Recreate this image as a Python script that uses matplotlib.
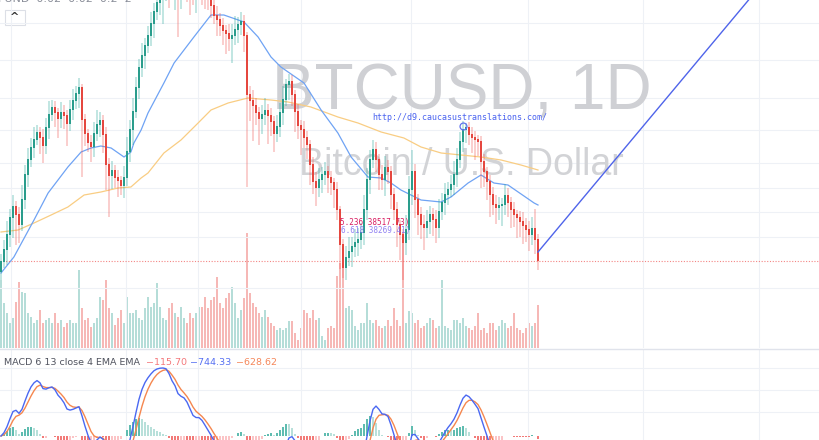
import numpy as np
import matplotlib.pyplot as plt

# --- daily candles (price in thousands USD), open of bar n = close of bar n-1
open_first = 12.8
close = [13.8, 15.0, 16.5, 18.2, 19.3, 18.5, 17.5, 20.0, 22.5, 24.0,
         25.2, 26.0, 26.7, 26.2, 25.4, 27.2, 28.5, 29.2, 28.7, 28.1,
         28.7, 28.4, 27.6, 29.0, 29.9, 30.6, 31.2, 28.0, 26.6, 25.7,
         25.3, 26.6, 27.5, 27.9, 26.5, 23.5, 22.4, 22.9, 22.2, 21.9,
         21.4, 22.2, 24.8, 27.0, 28.8, 31.2, 33.2, 34.4, 35.4, 36.4,
         37.6, 38.8, 39.7, 40.6, 41.5, 42.2, 41.6, 41.0, 41.6, 40.6,
         42.0, 42.6, 42.0, 41.0, 40.5, 41.5, 42.2, 41.5, 40.6, 40.0,
         39.4, 38.4, 38.0, 37.4, 36.9, 36.6, 36.1, 36.4, 37.0, 37.5,
         37.8, 36.4, 30.5, 29.9, 29.4, 28.7, 28.1, 28.5, 28.9, 28.4,
         27.8, 26.6, 27.3, 28.7, 30.0, 31.5, 31.8, 30.5, 28.8, 27.4,
         27.0, 26.2, 25.5, 23.5, 21.8, 21.2, 22.0, 22.5, 22.8, 22.2,
         21.7, 21.0, 19.0, 15.5, 13.2, 14.2, 14.8, 15.3, 15.7, 16.0,
         16.7, 19.0, 22.0, 24.0, 25.0, 24.0, 22.5, 22.0, 23.2, 22.8,
         20.5, 19.0, 17.5, 16.5, 15.7, 17.0, 21.0, 22.8, 20.0, 18.5,
         17.5, 17.2, 17.8, 18.5, 18.0, 17.2, 18.8, 19.7, 20.5, 21.0,
         21.5, 22.5, 24.0, 25.8, 27.0, 27.2, 26.5, 26.2, 26.0, 25.8,
         23.8, 22.8, 21.8, 20.5, 19.5, 19.2, 19.4, 19.5, 20.4, 19.7,
         19.0, 18.5, 18.2, 17.8, 17.4, 17.0, 16.5, 17.1, 16.0, 13.9]
upper_wick = [0.8, 1.0, 1.4, 0.9, 1.2, 0.6, 0.8, 1.5, 1.0, 1.2,
              1.0, 1.3, 0.8, 0.6, 0.9, 1.0, 1.4, 0.8, 0.7, 0.5,
              1.1, 0.8, 0.6, 1.0, 1.2, 0.8, 1.0, 0.4, 0.6, 0.5,
              0.8, 1.2, 1.5, 0.9, 0.6, 0.8, 0.7, 1.0, 0.6, 0.8,
              0.5, 1.2, 1.5, 1.0, 1.4, 1.1, 0.9, 1.3, 0.8, 1.0,
              1.2, 0.9, 1.1, 0.8, 1.0, 0.7, 1.2, 0.8, 1.0, 0.6,
              0.9, 1.1, 0.8, 0.7, 1.2, 1.0, 0.8, 0.9, 1.1, 0.6,
              0.8, 0.6, 1.0, 0.7, 0.8, 0.6, 1.0, 1.2, 1.4, 0.8,
              1.0, 0.7, 0.4, 0.9, 1.1, 0.8, 0.6, 1.0, 1.3, 0.7,
              0.8, 0.6, 1.2, 1.0, 1.4, 0.6, 0.8, 0.7, 0.5, 0.8,
              0.6, 0.9, 0.7, 0.5, 0.8, 1.0, 1.2, 0.8, 1.0, 0.6,
              0.7, 0.5, 0.8, 0.4, 0.6, 1.2, 1.5, 1.0, 1.4, 1.2,
              1.0, 1.5, 1.2, 1.0, 1.0, 0.8, 0.6, 1.0, 1.2, 0.8,
              0.6, 0.7, 0.8, 0.5, 0.6, 1.5, 1.4, 2.2, 0.8, 0.6,
              0.8, 1.0, 1.2, 0.9, 0.7, 1.0, 1.3, 1.0, 1.2, 0.8,
              1.0, 1.4, 1.2, 1.0, 0.9, 0.5, 0.6, 0.8, 0.7, 0.5,
              0.6, 0.8, 0.5, 0.7, 0.8, 1.0, 0.9, 0.7, 1.2, 0.8,
              0.6, 0.8, 0.5, 0.7, 1.0, 0.8, 0.9, 1.2, 2.0, 0.6]
lower_wick = [0.8, 0.6, 1.5, 1.2, 2.0, 3.0, 1.8, 0.6, 0.9, 1.2,
              0.7, 1.0, 0.5, 1.6, 1.7, 0.8, 1.1, 0.6, 1.4, 1.9,
              0.9, 1.3, 2.2, 0.7, 1.0, 0.8, 1.4, 5.7, 1.2, 0.9,
              1.5, 1.0, 0.7, 1.2, 1.8, 2.5, 4.1, 1.3, 1.0, 1.6,
              0.9, 1.2, 0.8, 1.0, 1.5, 0.6, 1.1, 0.9, 1.3, 0.7,
              1.0, 1.4, 0.8, 1.2, 3.0, 1.6, 2.4, 1.0, 2.0, 4.3,
              1.5, 1.0, 2.2, 2.5, 1.0, 1.8, 1.2, 2.0, 1.5, 1.0,
              1.2, 0.8, 1.6, 1.0, 1.4, 2.0, 1.2, 2.4, 0.9, 1.3,
              1.0, 1.6, 9.2, 2.0, 3.5, 1.2, 2.6, 1.5, 1.0, 2.8,
              1.4, 1.8, 0.8, 1.0, 1.2, 0.6, 1.5, 1.1, 2.0, 1.3,
              2.5, 1.0, 1.4, 2.0, 1.2, 1.8, 0.9, 1.3, 1.0, 1.5,
              1.2, 1.8, 1.0, 2.4, 1.0, 1.2, 0.8, 1.5, 1.0, 1.3,
              0.9, 1.2, 1.0, 1.4, 0.8, 1.2, 1.5, 1.0, 1.6, 1.2,
              1.4, 1.0, 2.2, 2.5, 3.7, 1.2, 1.0, 1.5, 1.8, 2.0,
              1.4, 2.2, 1.0, 1.2, 1.6, 1.5, 1.0, 0.8, 1.2, 1.0,
              0.7, 1.0, 1.2, 0.8, 1.0, 1.3, 1.0, 1.5, 2.0, 1.4,
              2.6, 1.5, 1.8, 2.2, 1.0, 1.6, 1.2, 2.0, 1.0, 1.4,
              1.8, 1.2, 2.0, 1.5, 1.8, 1.2, 1.6, 1.0, 1.4, 0.9]
volume = [68, 45, 35, 25, 30, 46, 66, 56, 55, 35,
          31, 25, 28, 38, 25, 28, 30, 25, 35, 25,
          28, 21, 25, 28, 25, 25, 78, 40, 28, 30,
          21, 25, 30, 51, 48, 68, 40, 35, 23, 30,
          38, 25, 51, 35, 35, 38, 30, 28, 40, 51,
          41, 45, 65, 41, 30, 28, 40, 45, 35, 31,
          41, 30, 25, 35, 30, 35, 41, 41, 51, 40,
          48, 51, 71, 45, 40, 50, 55, 61, 45, 30,
          38, 50, 115, 55, 45, 41, 35, 31, 38, 31,
          25, 22, 18, 20, 18, 20, 27, 27, 15, 8,
          20, 38, 35, 30, 38, 28, 30, 12, 8, 20,
          22, 20, 72, 85, 80, 40, 42, 38, 22, 18,
          25, 25, 45, 28, 25, 28, 22, 20, 22, 28,
          22, 40, 28, 22, 116, 25, 37, 35, 25, 28,
          20, 22, 25, 30, 28, 20, 22, 68, 22, 20,
          18, 28, 28, 25, 30, 22, 20, 18, 22, 35,
          18, 20, 15, 25, 25, 18, 22, 28, 25, 20,
          22, 35, 20, 18, 15, 20, 25, 22, 25, 43]

# moving averages (bar index, price)
ma_fast_x = [0, 4.3, 11, 15.7, 22.3, 26.7, 30, 33.3, 36.7, 41, 43.3, 44.3, 46.7,
             49, 54.3, 57.7, 64.3, 70, 74.3, 81, 85.7, 90, 93.3, 101, 106.7,
             112.3, 116.7, 122.3, 126.7, 130, 133.3, 140, 146.7, 150, 155.7,
             160, 164.3, 169, 177.7, 179]
ma_fast_y = [12.7, 14.3, 18.0, 20.7, 23.3, 24.8, 25.2, 25.4, 25.2, 24.3, 24.8, 25.7, 27.0,
             28.7, 31.7, 33.7, 36.3, 38.5, 38.5, 37.8, 36.3, 34.3, 33.3, 31.7, 29.0,
             26.7, 24.3, 22.3, 22.2, 21.7, 21.0, 20.0, 19.8, 20.3, 21.7,
             22.5, 21.7, 21.5, 19.7, 19.5]
ma_slow_x = [0, 5.7, 11, 16.7, 22.3, 27.7, 33.3, 39, 43.3, 46.7, 49, 54.3, 60,
             65.7, 70, 75.7, 82.3, 90, 95.7, 103.3, 112.3, 119, 126.7, 134.3,
             140, 146.7, 153.3, 160, 166.7, 173.3, 179]
ma_slow_y = [16.8, 17.0, 17.7, 18.5, 19.3, 20.5, 20.8, 21.2, 21.3, 22.2, 22.7, 24.7, 26.0,
             27.7, 29.0, 29.7, 30.2, 30.0, 29.8, 29.3, 28.3, 27.7, 26.8, 26.2,
             25.3, 24.7, 24.5, 24.3, 24.0, 23.5, 23.0]

trend_x = [179, 262]
trend_y = [14.8, 44.6]
last_price = 13.9
price_grid = [37.7, 34.0, 30.2, 27.0, 23.7, 21.2, 18.8, 16.3, 11.2]
time_grid = [3.3, 41.7, 65.7, 100, 136.7, 175.7, 214, 252.7]

GREEN, RED = '#26a69a', '#ef5350'
GRID = '#eef1f6'

close = np.array(close)
opens = np.r_[open_first, close[:-1]]
high = np.maximum(opens, close) + np.array(upper_wick)
low = np.minimum(opens, close) - np.array(lower_wick)
idx = np.arange(len(close))
up = close >= opens
cols = np.where(up, GREEN, RED)


def ema(x, n):
    a = 2 / (n + 1)
    out = np.empty(len(x))
    out[0] = x[0]
    for i in range(1, len(x)):
        out[i] = a * x[i] + (1 - a) * out[i - 1]
    return out


macd = ema(close, 6) - ema(close, 13)
signal = ema(macd, 4)
hist = macd - signal

fig = plt.figure(figsize=(8.2, 4.4), dpi=100)
W, H = 820, 440
XL = (-1 / 3, 273)


def fx(px):
    return px / W


def fy(py):
    return 1 - py / H


# ---------------- price pane
ax = fig.add_axes([0, 92 / H, 1, 348 / H])
axv = ax.twinx()
ax.set_zorder(2)
axv.set_zorder(1)
ax.patch.set_visible(False)
axv.patch.set_facecolor('white')

axv.bar(idx, volume, width=0.7, color=np.where(up, '#b5ddd8', '#f6b8b6'), linewidth=0)
axv.set_ylim(0, 348)

ax.set_xlim(*XL)
ax.set_ylim(5.2, 40.0)
for g in price_grid:
    ax.axhline(g, color=GRID, lw=0.8, zorder=0)
for g in time_grid:
    ax.axvline(g, color=GRID, lw=0.8, zorder=0)

# watermark (behind the candles)
ax.text(fx(462), fy(109), 'BTCUSD, 1D', transform=fig.transFigure, fontsize=46, color='#cfd0d4',
        family='Liberation Sans', ha='center', va='baseline', zorder=0.5)
ax.text(fx(461), fy(175), 'Bitcoin / U.S. Dollar', transform=fig.transFigure, fontsize=27,
        color='#d2d3d6', family='Liberation Sans', ha='center', va='baseline', zorder=0.5)

ax.plot(ma_slow_x, ma_slow_y, color='#f9cd83', lw=0.9, zorder=1)
ax.plot(ma_fast_x, ma_fast_y, color='#6fa3f4', lw=0.9, zorder=1)

ax.bar(idx, high - low, bottom=low, width=0.7, color=cols, alpha=0.28, linewidth=0, zorder=2)
ax.bar(idx, np.abs(close - opens) + 0.08, bottom=np.minimum(opens, close), width=0.7,
       color=np.where(up, '#2a9d8c', '#e5473f'), linewidth=0, zorder=3)

ax.axhline(last_price, color=RED, lw=0.8, ls=(0, (1, 1.5)), alpha=0.7, zorder=1)
ax.plot(trend_x, trend_y, color='#4f64ea', lw=1.0, zorder=4)
ax.plot([154], [27.4], marker='o', ms=5, mfc='none', mec='#5f73ee', mew=0.9, zorder=4)

ax.set_xticks([])
ax.set_yticks([])
axv.set_yticks([])
for a in (ax, axv):
    for s in a.spines.values():
        s.set_visible(False)

# annotations
fig.text(fx(460), fy(118), 'http://d9.caucasustranslations.com/', fontsize=6,
         family='DejaVu Sans Mono', color='#4a63f0', ha='center', va='center')
fig.text(fx(340), fy(222), '5.236 38517.73)', fontsize=5.5, family='DejaVu Sans Mono',
         color='#d81b60', va='center')
fig.text(fx(341), fy(230), '6.618 38269.41)', fontsize=5.5, family='DejaVu Sans Mono',
         color='#7e6cf0', va='center', alpha=0.85)
fig.text(fx(-2), fy(-1), 'FUND  0.02  0.02  0.2  2', fontsize=8, color='#8a8e99', va='center')
btn = plt.Rectangle((fx(5), fy(25)), 20 / W, 15 / H, transform=fig.transFigure,
                    facecolor='white', edgecolor='#dcdfe6', lw=0.8)
fig.patches.append(btn)
fig.text(fx(15), fy(17), '^', fontsize=8, color='#333', ha='center', va='center', weight='bold')

# separator
fig.add_artist(plt.Line2D([0, 1], [fy(349)] * 2, color='#e0e3eb', lw=1))

# ---------------- MACD pane
ax2 = fig.add_axes([0, 0, 1, 90 / H])
ax2.set_xlim(*XL)
k = macd.max() / 68
ax2.set_ylim(-4 * k, 86 * k)
for g in (24 * k, 46 * k, 68 * k):
    ax2.axhline(g, color=GRID, lw=0.8, zorder=0)
for g in time_grid:
    ax2.axvline(g, color=GRID, lw=0.8, zorder=0)

grow = np.r_[True, np.diff(hist) > 0]
hcol = np.where(hist >= 0, np.where(grow, '#5fbcb0', '#b8e0da'),
                np.where(grow, '#fbc4c6', '#f27a78'))
ax2.bar(idx, hist, width=0.65, color=hcol, linewidth=0, zorder=1)
ax2.plot(idx, signal, color='#f5874f', lw=1.0, zorder=2)
ax2.plot(idx, macd, color='#4a68f2', lw=1.0, zorder=3)
ax2.set_xticks([])
ax2.set_yticks([])
for s in ax2.spines.values():
    s.set_visible(False)

fig.text(fx(4), fy(362), 'MACD 6 13 close 4 EMA EMA', fontsize=6.8, color='#50535e', va='center')
fig.text(fx(146), fy(362), '\u2212115.70', fontsize=6.8, color='#f4777a', va='center')
fig.text(fx(190), fy(362), '\u2212744.33', fontsize=6.8, color='#5670f2', va='center')
fig.text(fx(236), fy(362), '\u2212628.62', fontsize=6.8, color='#f5875a', va='center')

fig.savefig('out.png', dpi=100, facecolor='white')
